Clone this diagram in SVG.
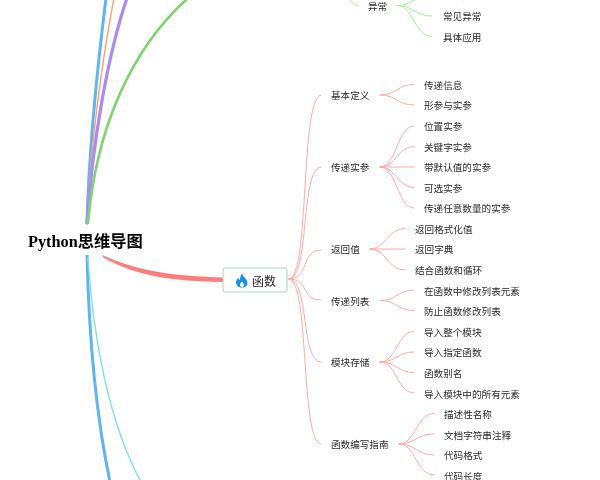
<svg xmlns="http://www.w3.org/2000/svg" width="600" height="480" viewBox="0 0 600 480">
<style>
text{font-family:"Noto Sans CJK SC","Noto Sans",sans-serif;font-size:9.6px;fill:#2a2a2a;dominant-baseline:central}
.root{font-family:"Liberation Serif","Noto Sans CJK SC",serif;font-size:16.3px;font-weight:700;fill:#000}
.fn{font-size:12px}
.c{fill:none;stroke-linecap:round}
.r{stroke:#ffa8a8;stroke-width:1}
.g{stroke:#aee6a0;stroke-width:1}
</style>
<defs><filter id="soft" x="0" y="0" width="600" height="480" filterUnits="userSpaceOnUse"><feGaussianBlur stdDeviation="0.35"/></filter></defs>
<g filter="url(#soft)">
<g id="connectors">
<path class="c" stroke="#61b5ee" stroke-width="3" d="M87 223C89 150 97 70 106 -2"/>
<path class="c" stroke="#ff9f73" stroke-width="1.4" d="M87 223C90 150 102 60 114 -2"/>
<path class="c" stroke="#a98cf0" stroke-width="3.200" d="M87 223C92 150 106 60 127 -2"/>
<path class="c" stroke="#7ed46e" stroke-width="2.600" d="M88 223C96 130 130 50 188 -2"/>
<path stroke="#61b5ee" stroke-width="3" fill="none" d="M87 255C89 340 97 420 110 482"/>
<path class="c" stroke="#7fe3dd" stroke-width="1.4" d="M88 258C93 340 110 425 141 482"/>
<path fill="#ff7b7b" d="M102 255C140 272 175 276 223 277.500V282C172 281 140 277 104 258Z"/>
<g class="c r">
<path d="M289 279C310 279 300 95 321 95"/>
<path d="M289 279C310 279 300 167 321 167"/>
<path d="M289 279C310 279 300 250 321 250"/>
<path d="M289 279C310 279 300 300 321 300"/>
<path d="M289 279C310 279 300 362 321 362"/>
<path d="M289 279C310 279 300 444 321 444"/>
<path d="M380 95C397 95 397 84.500 414 84.500"/>
<path d="M380 95C397 95 397 105 414 105"/>
<path d="M380 167C397 167 397 126 414 126"/>
<path d="M380 167C397 167 397 146.500 414 146.500"/>
<path d="M380 167H414"/>
<path d="M380 167C397 167 397 187.500 414 187.500"/>
<path d="M380 167C397 167 397 208 414 208"/>
<path d="M370 249C387 249 387 228.500 405 228.500"/>
<path d="M370 249H405"/>
<path d="M370 249C387 249 387 270 405 270"/>
<path d="M380 300.500C397 300.500 397 290 414 290"/>
<path d="M380 300.500C397 300.500 397 310.500 414 310.500"/>
<path d="M380 362C397 362 397 331.500 414 331.500"/>
<path d="M380 362C397 362 397 352 414 352"/>
<path d="M380 362C397 362 397 372.500 414 372.500"/>
<path d="M380 362C397 362 397 393 414 393"/>
<path d="M399 444C416 444 416 413.500 434 413.500"/>
<path d="M399 444C416 444 416 434 434 434"/>
<path d="M399 444C416 444 416 455 434 455"/>
<path d="M399 444C416 444 416 475 434 475"/>
</g>
<g class="c g">
<path d="M346 -6C350 0 352 5 358 5.500"/>
<path d="M397 5.500C414 5.500 414 -5 432 -5"/>
<path d="M397 5.500C414 5.500 414 16 432 16"/>
<path d="M397 5.500C414 5.500 414 36.500 432 36.500"/>
</g>
</g>
<g id="root"><text class="root" x="28" y="241">Python思维导图</text></g>
<g id="func">
<rect x="223" y="268" width="64" height="24" rx="2" fill="#fff" stroke="#a9d4cc" stroke-width="1"/>
<path fill="#1a8fe0" d="M242 273.500C243 277 247.500 279 247.500 283C247.500 286 245 287.500 242 287.500C238.500 287.500 236 285.500 236 282.500C236 280.500 237 279 238 278C238.500 279 239 279.500 240 280C240 277.500 240.500 275.500 242 273.500Z"/>
<path fill="#fff" d="M241.800 281.500C240.500 283 240 284 240 285C240 286.200 241 287 242 287C243.200 287 244 286.200 244 285C244 283.800 242.800 282.800 241.800 281.500Z"/>
<text class="fn" x="252" y="280.500">函数</text>
</g>
<g id="n-yichang">
<text x="368" y="6">异常</text>
<text x="443" y="-5.500">内置异常</text>
<text x="443" y="15.500">常见异常</text>
<text x="443" y="36.500">具体应用</text>
</g>
<g id="n-jiben">
<text x="331" y="95">基本定义</text>
<text x="424" y="84.500">传递信息</text>
<text x="424" y="105">形参与实参</text>
</g>
<g id="n-chuandi">
<text x="331" y="167">传递实参</text>
<text x="424" y="126">位置实参</text>
<text x="424" y="146.500">关键字实参</text>
<text x="424" y="167">带默认值的实参</text>
<text x="424" y="187.500">可选实参</text>
<text x="424" y="208">传递任意数量的实参</text>
</g>
<g id="n-fanhui">
<text x="331" y="249">返回值</text>
<text x="415" y="228.500">返回格式化值</text>
<text x="415" y="249">返回字典</text>
<text x="415" y="269.500">结合函数和循环</text>
</g>
<g id="n-liebiao">
<text x="331" y="300.500">传递列表</text>
<text x="424" y="290.500">在函数中修改列表元素</text>
<text x="424" y="311">防止函数修改列表</text>
</g>
<g id="n-mokuai">
<text x="331" y="362">模块存储</text>
<text x="424" y="331.500">导入整个模块</text>
<text x="424" y="352">导入指定函数</text>
<text x="424" y="373">函数别名</text>
<text x="424" y="393.500">导入模块中的所有元素</text>
</g>
<g id="n-zhinan">
<text x="331" y="444">函数编写指南</text>
<text x="444" y="413.500">描述性名称</text>
<text x="444" y="434.500">文档字符串注释</text>
<text x="444" y="455">代码格式</text>
<text x="444" y="475.500">代码长度</text>
</g>
</g>
</svg>
